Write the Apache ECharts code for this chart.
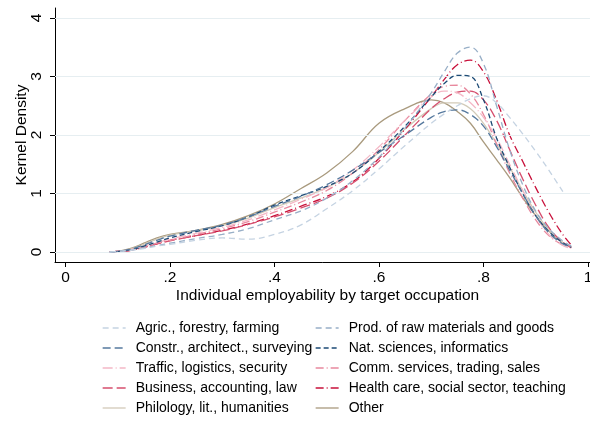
<!DOCTYPE html>
<html><head><meta charset="utf-8">
<script src="https://cdn.jsdelivr.net/npm/echarts@6/dist/echarts.min.js"></script>
<style>html,body{margin:0;padding:0;background:#fff}#c{width:590px;height:421px}</style>
</head><body><div id="c"></div>
<script>
// x grid for densities
const xs = [0.085,0.1,0.125,0.15,0.175,0.2,0.25,0.3,0.35,0.4,0.45,0.5,0.55,0.6,0.65,0.7,0.725,0.75,0.775,0.8,0.825,0.85,0.875,0.9,0.925,0.95,0.968];
const xsAgric = [0.085,0.1,0.125,0.15,0.175,0.2,0.25,0.3,0.35,0.4,0.45,0.5,0.55,0.6,0.65,0.7,0.725,0.75,0.775,0.8,0.825,0.85,0.875,0.9,0.925,0.952];

const agric      = [0,0.01,0.03,0.06,0.1,0.13,0.2,0.24,0.22,0.3,0.46,0.74,1.05,1.42,1.82,2.2,2.36,2.5,2.62,2.67,2.55,2.3,2.02,1.72,1.4,1.03];
const prod       = [0,0.01,0.03,0.07,0.11,0.15,0.23,0.3,0.4,0.55,0.7,0.92,1.22,1.62,2.12,2.72,3.08,3.4,3.5,3.22,2.5,1.75,1.15,0.7,0.4,0.2,0.1];
const constr     = [0,0.01,0.05,0.12,0.2,0.27,0.37,0.46,0.6,0.78,0.95,1.15,1.4,1.7,2.0,2.3,2.4,2.43,2.35,2.15,1.8,1.4,1.0,0.62,0.33,0.15,0.08];
const natsci     = [0,0.01,0.04,0.1,0.17,0.24,0.35,0.45,0.6,0.8,0.96,1.12,1.35,1.72,2.15,2.65,2.88,3.02,3.0,2.6,1.95,1.45,1.0,0.62,0.35,0.17,0.08];
const traffic    = [0,0.01,0.04,0.1,0.16,0.22,0.32,0.42,0.55,0.72,0.9,1.1,1.4,1.8,2.25,2.65,2.75,2.72,2.55,2.3,1.95,1.5,1.05,0.62,0.3,0.12,0.06];
const comm       = [0,0.01,0.04,0.09,0.15,0.2,0.3,0.4,0.52,0.68,0.85,1.05,1.35,1.75,2.25,2.7,2.83,2.85,2.7,2.35,1.85,1.35,0.92,0.55,0.28,0.13,0.07];
const business   = [0,0.01,0.03,0.08,0.14,0.19,0.28,0.36,0.47,0.6,0.75,0.92,1.18,1.55,2.0,2.45,2.62,2.73,2.75,2.6,2.25,1.75,1.25,0.8,0.42,0.18,0.08];
const health     = [0,0.01,0.03,0.08,0.14,0.2,0.28,0.37,0.48,0.62,0.78,0.95,1.2,1.6,2.1,2.65,2.95,3.2,3.28,3.08,2.6,2.0,1.55,1.1,0.68,0.32,0.12];
const philology  = [0,0.01,0.05,0.13,0.22,0.29,0.36,0.45,0.58,0.76,0.92,1.1,1.35,1.7,2.1,2.45,2.55,2.55,2.45,2.2,1.85,1.45,1.05,0.68,0.38,0.17,0.08];
const other      = [0,0.01,0.06,0.15,0.24,0.3,0.37,0.47,0.62,0.82,1.08,1.35,1.72,2.2,2.45,2.6,2.55,2.4,2.2,1.88,1.58,1.27,0.93,0.62,0.36,0.17,0.08];

const names = ["Agric., forestry, farming","Prod. of raw materials and goods","Constr., architect., surveying","Nat. sciences, informatics","Traffic, logistics, security","Comm. services, trading, sales","Business, accounting, law","Health care, social sector, teaching","Philology, lit., humanities","Other"];
const xTicks = [0,0.2,0.4,0.6,0.8,1];
const xTickLabels = ["0",".2",".4",".6",".8","1"];
const yTicks = [0,1,2,3,4];

const colors = ["#c5d3e2","#98afc7","#56799e","#1c4a75","#f4b8c6","#e8899e","#d64f6e","#c8103a","#d2cab8","#a99a7e"];
const dashes = [[6,4],[6,4],[8,4],[5,3],[10,3,1,3],[8,3,1,3],[10,4],[8,3,1,3],'solid','solid'];
const ys = [agric,prod,constr,natsci,traffic,comm,business,health,philology,other];

const pair = (xa, ya) => ya.map((v,i)=>[xa[i], v]);
const series = names.map((n,i)=>({
  name:n, type:'line', smooth:0.4, symbol:'none', showSymbol:false,
  data: pair(i===0?xsAgric:xs, ys[i]),
  lineStyle:{color:colors[i], width:1.3, type:dashes[i]},
  itemStyle:{color:colors[i]},
  z: 10-i
}));

const chart = echarts.init(document.getElementById('c'), null, {renderer:'canvas'});
const font = 'Liberation Sans';
const fs = 15.5;
function legendOf(left, data){
  return {
    orient:'vertical', top:321, left:left, height:110, padding:0, itemWidth:23, itemHeight:14, itemGap:6,
    itemStyle:{color:'rgba(0,0,0,0)', borderColor:'rgba(0,0,0,0)', borderWidth:0},
    lineStyle:{width:1.3},
    textStyle:{fontFamily:font, fontSize:14, lineHeight:14, color:'#000', padding:[0,0,0,5]},
    selectedMode:false, data:data
  };
}
chart.setOption({
  animation:false,
  textStyle:{fontFamily:font},
  grid:{left:55, top:8, width:545, height:254, containLabel:false, outerBoundsMode:'none'},
  legend:[
    legendOf(102, names.filter((_,i)=>i%2===0)),
    legendOf(315, names.filter((_,i)=>i%2===1))
  ],
  xAxis:{
    type:'value', min:-0.02, max:1.023,
    name:'Individual employability by target occupation', nameLocation:'middle', nameGap:26, nameMoveOverlap:false,
    nameTextStyle:{fontFamily:font, fontSize:fs, color:'#000'},
    axisLine:{show:true, onZero:false, lineStyle:{color:'#000', width:1}},
    axisTick:{show:true, length:5, lineStyle:{color:'#000'}, customValues:xTicks},
    axisLabel:{fontFamily:font, fontSize:fs, color:'#000', margin:8, customValues:xTicks,
      formatter:(v)=>{const k=xTicks.findIndex(t=>Math.abs(t-v)<1e-6); return k>=0?xTickLabels[k]:'';}},
    splitLine:{show:false}
  },
  yAxis:{
    type:'value', min:-0.171, max:4.17,
    name:'Kernel Density', nameLocation:'middle', nameGap:25, nameRotate:90, nameMoveOverlap:false,
    nameTextStyle:{fontFamily:font, fontSize:fs, color:'#000'},
    axisLine:{show:true, onZero:false, lineStyle:{color:'#000', width:1}},
    axisTick:{show:true, length:5, lineStyle:{color:'#000'}, customValues:yTicks},
    axisLabel:{fontFamily:font, fontSize:fs, color:'#000', margin:10, rotate:90, customValues:yTicks,
      formatter:(v)=>String(Math.round(v))},
    splitLine:{show:false}
  },
  series: series.concat([{
    name:'_grid', type:'line', silent:true, symbol:'none', data:[], 
    markLine:{silent:true, symbol:'none', label:{show:false},
      lineStyle:{color:'#e6eef1', width:1, type:'solid'},
      data: yTicks.map(v=>({yAxis:v}))}, z:0
  }])
});
</script></body></html>
